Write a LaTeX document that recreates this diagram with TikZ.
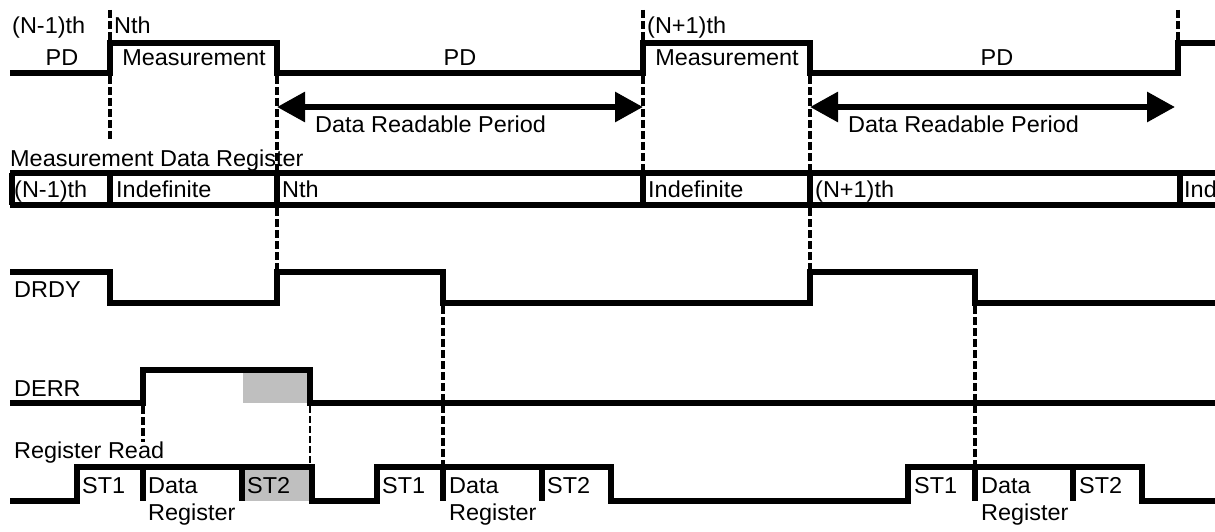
\documentclass[tikz,border=0pt]{standalone}
\usepackage{fontspec}
\setmainfont{Liberation Sans}[FakeStretch=1.02]
\usetikzlibrary{arrows.meta}
\begin{document}
\begin{tikzpicture}[x=1pt,y=-1pt,
  sig/.style={line width=6pt,line join=miter},
  guide/.style={line width=3.3pt,dash pattern=on 8pt off 3pt},
  thinguide/.style={line width=2.2pt,dash pattern=on 7pt off 3pt},
  lbl/.style={inner sep=0pt,anchor=base west,font=\fontsize{23}{26}\selectfont},
  clbl/.style={inner sep=0pt,anchor=base,font=\fontsize{23}{26}\selectfont},
  period/.style={line width=6pt,{Triangle[length=28pt,width=29pt]}-{Triangle[length=28pt,width=29pt]}},
  shade/.style={fill=black!25,draw=none}]
\clip (0,0) rectangle (1215,532);
\fill[white] (0,0) rectangle (1215,532);

% ---- coordinates
\coordinate (a1) at (277,107); \coordinate (a2) at (643,107);
\coordinate (b1) at (810,107); \coordinate (b2) at (1175,107);

% ---- top row: PD / Measurement
\draw[sig] (10,73) -- (110,73) -- (110,43) -- (277,43) -- (277,73) -- (643,73) -- (643,43) -- (810,43) -- (810,73) -- (1178,73) -- (1178,43) -- (1225,43);
\node[lbl] (tNm1) at (12,34) {(N-1)th};
\node[lbl] (tN) at (114,34) {Nth};
\node[lbl] (tNp1) at (647,34) {(N+1)th};
\node[clbl] (pd1) at (62,66) {PD};
\node[clbl] (m1) at (194,66) {Measurement};
\node[clbl] (pd2) at (460,66) {PD};
\node[clbl] (m2) at (727,66) {Measurement};
\node[clbl] (pd3) at (997,66) {PD};

% ---- Data readable arrows
\draw[period] (a1) -- (a2);
\draw[period] (b1) -- (b2);
\node[lbl] (dr1) at (315,133) {Data Readable Period};
\node[lbl] (dr2) at (848,133) {Data Readable Period};

% ---- Measurement data register bus
\node[lbl] (mdr) at (10,166) {Measurement Data Register};
\draw[sig] (10,173) -- (1225,173);
\draw[sig] (10,205) -- (1225,205);
\foreach \x in {12,110,277,643,810,1180} \draw[sig] (\x,173) -- (\x,205);
\node[lbl] (r1) at (14,197) {(N-1)th};
\node[lbl] (r2) at (116,197) {Indefinite};
\node[lbl] (r3) at (282,197) {Nth};
\node[lbl] (r4) at (648,197) {Indefinite};
\node[lbl] (r5) at (815,197) {(N+1)th};
\node[lbl] (r6) at (1184,197) {Ind};

% ---- DRDY
\node[lbl] (drdy) at (14,297) {DRDY};
\draw[sig] (10,272) -- (110,272) -- (110,303) -- (277,303) -- (277,272) -- (443,272) -- (443,303) -- (810,303) -- (810,272) -- (975,272) -- (975,303) -- (1225,303);

% ---- DERR
\node[lbl] (derr) at (14,396) {DERR};
\fill[shade] (243,370) rectangle (310,403);
\draw[sig] (10,403) -- (143,403) -- (143,370) -- (310,370) -- (310,403) -- (1225,403);

% ---- Register read
\node[lbl] (rr) at (14,458) {Register Read};
\fill[shade] (242,467) rectangle (312,501);
\draw[sig] (10,501) -- (77,501) -- (77,467) -- (312,467) -- (312,501) -- (377,501) -- (377,467) -- (611,467) -- (611,501) -- (908,501) -- (908,467) -- (1142,467) -- (1142,501) -- (1225,501);
\foreach \x in {143,242,443,542,975,1073} \draw[sig] (\x,467) -- (\x,501);
\node[lbl] (s11) at (82,493) {ST1};
\node[lbl] (d1) at (148,493) {Data};
\node[lbl] (s21) at (247,493) {ST2};
\node[lbl] (g1) at (148,520) {Register};
\node[lbl] (s12) at (382,493) {ST1};
\node[lbl] (d2) at (449,493) {Data};
\node[lbl] (s22) at (547,493) {ST2};
\node[lbl] (g2) at (449,520) {Register};
\node[lbl] (s13) at (914,493) {ST1};
\node[lbl] (d3) at (981,493) {Data};
\node[lbl] (s23) at (1079,493) {ST2};
\node[lbl] (g3) at (981,520) {Register};

% ---- dashed guides
\draw[guide] (110,10) -- (110,40);
\draw[guide] (110,76) -- (110,140);
\draw[guide] (277,76) -- (277,170);
\draw[guide] (277,208) -- (277,269);
\draw[guide] (643,10) -- (643,40);
\draw[guide] (643,76) -- (643,170);
\draw[guide] (810,76) -- (810,170);
\draw[guide] (810,208) -- (810,269);
\draw[guide] (1178,10) -- (1178,40);
\draw[guide] (443,306) -- (443,464);
\draw[guide] (975,306) -- (975,464);
\draw[guide] (143,406) -- (143,442);
\draw[thinguide] (310,406) -- (310,464);
\end{tikzpicture}
\end{document}
